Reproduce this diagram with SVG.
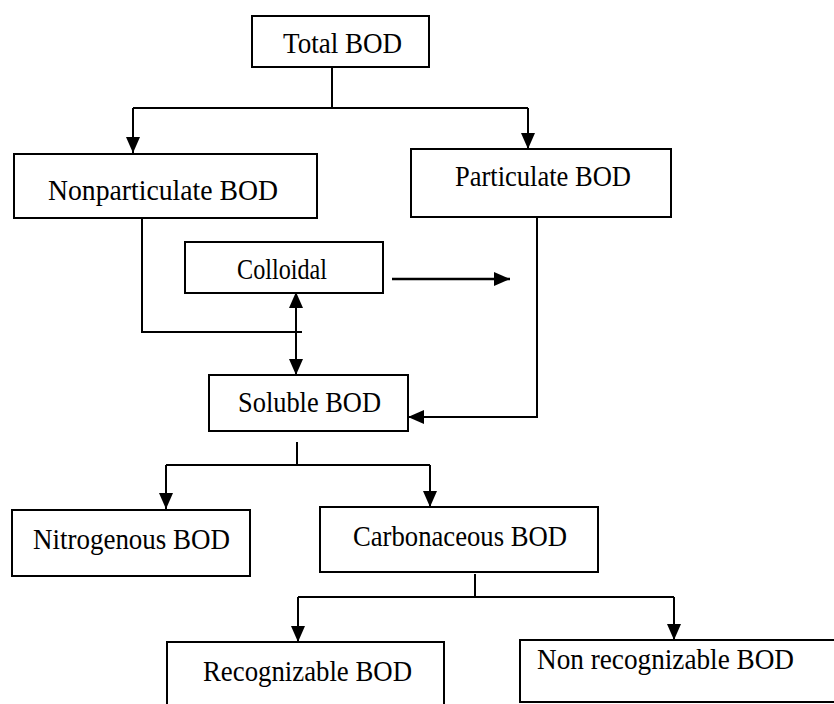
<svg xmlns="http://www.w3.org/2000/svg" width="834" height="704" viewBox="0 0 834 704">
  <style>
    .box { fill: #ffffff; stroke: #000000; stroke-width: 2; }
    .lbl { font-family: "Liberation Serif", "Times New Roman", serif; font-size: 30px; fill: #000000; text-anchor: middle; }
    .ln { fill: none; stroke: #000000; stroke-width: 2; }
    .arr { marker-end: url(#ah); }
    .dbl { marker-start: url(#ahs); marker-end: url(#ah); }
  </style>
  <defs>
    <marker id="ah" markerUnits="userSpaceOnUse" markerWidth="17" markerHeight="14" refX="16" refY="7" orient="auto">
      <path d="M0,0 L16,7 L0,14 Z" fill="#000000"/>
    </marker>
    <marker id="ahs" markerUnits="userSpaceOnUse" markerWidth="17" markerHeight="14" refX="16" refY="7" orient="auto-start-reverse">
      <path d="M0,0 L16,7 L0,14 Z" fill="#000000"/>
    </marker>
  </defs>
  <rect width="834" height="704" fill="#ffffff"/>

  <g id="connectors">
    <path class="ln" d="M332,67 V108"/>
    <path class="ln" d="M133,108 H528"/>
    <path class="ln arr" d="M133,108 V153"/>
    <path class="ln arr" d="M528,108 V149"/>
    <path class="ln" d="M142,218 V332 H302"/>
    <path class="ln dbl" d="M296,292 V375"/>
    <path class="ln arr" style="stroke-width:2.5" d="M392,279 H510"/>
    <path class="ln arr" d="M537,217 V417 H408"/>
    <path class="ln" d="M297,442 V465"/>
    <path class="ln" d="M166,465 H430"/>
    <path class="ln arr" d="M166,465 V509"/>
    <path class="ln arr" d="M430,465 V507"/>
    <path class="ln" d="M475,574 V597"/>
    <path class="ln" d="M298,597 H674"/>
    <path class="ln arr" d="M298,597 V642"/>
    <path class="ln arr" d="M674,597 V640"/>
  </g>

  <g id="total">
    <rect class="box" x="252" y="16" width="177" height="51"/>
    <text class="lbl" x="342.5" y="53" textLength="119" lengthAdjust="spacingAndGlyphs">Total BOD</text>
  </g>
  <g id="nonparticulate">
    <rect class="box" x="14" y="154" width="303" height="64"/>
    <text class="lbl" x="163" y="200" textLength="230" lengthAdjust="spacingAndGlyphs">Nonparticulate BOD</text>
  </g>
  <g id="particulate">
    <rect class="box" x="411" y="149" width="260" height="68"/>
    <text class="lbl" x="543" y="186" textLength="176" lengthAdjust="spacingAndGlyphs">Particulate BOD</text>
  </g>
  <g id="colloidal">
    <rect class="box" x="185" y="242" width="198" height="51"/>
    <text class="lbl" x="282" y="279" textLength="90" lengthAdjust="spacingAndGlyphs">Colloidal</text>
  </g>
  <g id="soluble">
    <rect class="box" x="209" y="375" width="199" height="56"/>
    <text class="lbl" x="309.5" y="412" textLength="143" lengthAdjust="spacingAndGlyphs">Soluble BOD</text>
  </g>
  <g id="nitrogenous">
    <rect class="box" x="12" y="510" width="238" height="66"/>
    <text class="lbl" x="131.5" y="549" textLength="197" lengthAdjust="spacingAndGlyphs">Nitrogenous BOD</text>
  </g>
  <g id="carbonaceous">
    <rect class="box" x="320" y="507" width="278" height="65"/>
    <text class="lbl" x="460" y="546" textLength="214" lengthAdjust="spacingAndGlyphs">Carbonaceous BOD</text>
  </g>
  <g id="recognizable">
    <rect class="box" x="167" y="642" width="277" height="80"/>
    <text class="lbl" x="307.5" y="681" textLength="209" lengthAdjust="spacingAndGlyphs">Recognizable BOD</text>
  </g>
  <g id="nonrecognizable">
    <rect class="box" x="520" y="640" width="330" height="62"/>
    <text class="lbl" x="665.5" y="669" textLength="257" lengthAdjust="spacingAndGlyphs">Non recognizable BOD</text>
  </g>
</svg>
